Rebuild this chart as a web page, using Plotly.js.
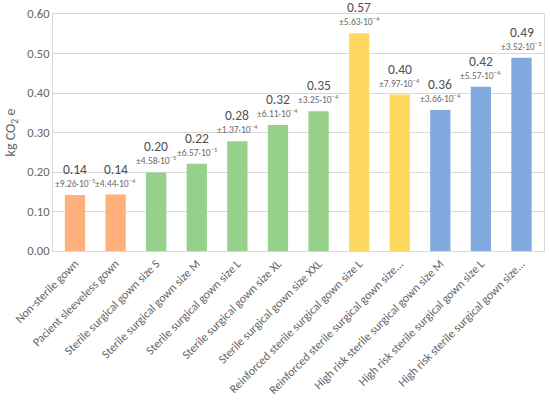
<!DOCTYPE html>
<html>
<head>
<meta charset="utf-8">
<script src="https://cdn.plot.ly/plotly-3.0.1.min.js"></script>
<style>html,body{margin:0;padding:0;background:#fff;}#chart{width:550px;height:402px;}</style>
</head>
<body>
<div id="chart"></div>
<script>
var categories = [
  "Non-sterile gown",
  "Pacient sleeveless gown",
  "Sterile surgical gown size S",
  "Sterile surgical gown size M",
  "Sterile surgical gown size L",
  "Sterile surgical gown size XL",
  "Sterile surgical gown size XXL",
  "Reinforced sterile surgical gown size L",
  "Reinforced sterile surgical gown size...",
  "High risk sterile surgical gown size M",
  "High risk sterile surgical gown size L",
  "High risk sterile surgical gown size..."
];
var values = [0.142, 0.143, 0.199, 0.221, 0.278, 0.319, 0.354, 0.551, 0.396, 0.357, 0.416, 0.489];
var valueLabels = ["0.14", "0.14", "0.20", "0.22", "0.28", "0.32", "0.35", "0.57", "0.40", "0.36", "0.42", "0.49"];
var errMantissa = ["9.26", "4.44", "4.58", "6.57", "1.37", "6.11", "3.25", "5.63", "7.97", "3.66", "5.57", "3.52"];
var errExponent = ["-5", "-4", "-5", "-5", "-4", "-4", "-4", "-4", "-4", "-4", "-4", "-3"];
var groups = ["orange", "orange", "green", "green", "green", "green", "green", "yellow", "yellow", "blue", "blue", "blue"];
var groupColors = {orange: "#FFB07C", green: "#96D08B", yellow: "#FFD862", blue: "#82AADE"};

var FONT = "Calibri, Carlito, 'Liberation Sans', sans-serif";
var annotations = [];
for (var i = 0; i < categories.length; i++) {
  annotations.push({
    x: categories[i], y: values[i], xref: "x", yref: "y",
    text: "±" + errMantissa[i] + "·10<sup>" + errExponent[i].replace("-", "−") + "</sup>",
    showarrow: false, yanchor: "bottom", yshift: 3,
    font: {family: FONT, size: 9.5, color: "#6b6b6b"}
  });
  annotations.push({
    x: categories[i], y: values[i], xref: "x", yref: "y",
    text: valueLabels[i],
    showarrow: false, yanchor: "bottom", yshift: 15,
    font: {family: FONT, size: 13.5, color: "#505050"}
  });
}

var trace = {
  type: "bar",
  x: categories,
  y: values,
  marker: {color: groups.map(function(g){ return groupColors[g]; })},
  hoverinfo: "x+y"
};

var layout = {
  width: 550, height: 402,
  margin: {l: 53, r: 6, t: 14, b: 151, pad: 0},
  paper_bgcolor: "#fff", plot_bgcolor: "#fff",
  bargap: 0.5,
  showlegend: false,
  font: {family: FONT, color: "#595959"},
  xaxis: {
    type: "category",
    tickangle: -45,
    tickfont: {size: 12, color: "#666666"},
    showline: true, linecolor: "#d9d9d9", linewidth: 1, mirror: true,
    ticks: "", showgrid: false, automargin: false
  },
  yaxis: {
    range: [0, 0.6],
    dtick: 0.1,
    tickformat: ".2f",
    tickfont: {size: 12.5, color: "#666666"},
    gridcolor: "#d9d9d9", gridwidth: 1,
    showline: true, linecolor: "#d9d9d9", linewidth: 1, mirror: true,
    zeroline: false, ticks: "", ticklen: 0,
    title: {text: "kg CO<sub>2</sub> e", font: {size: 14, color: "#666666"}, standoff: 8},
    automargin: false
  },
  annotations: annotations
};

Plotly.newPlot("chart", [trace], layout, {displayModeBar: false, staticPlot: true});
</script>
</body>
</html>
